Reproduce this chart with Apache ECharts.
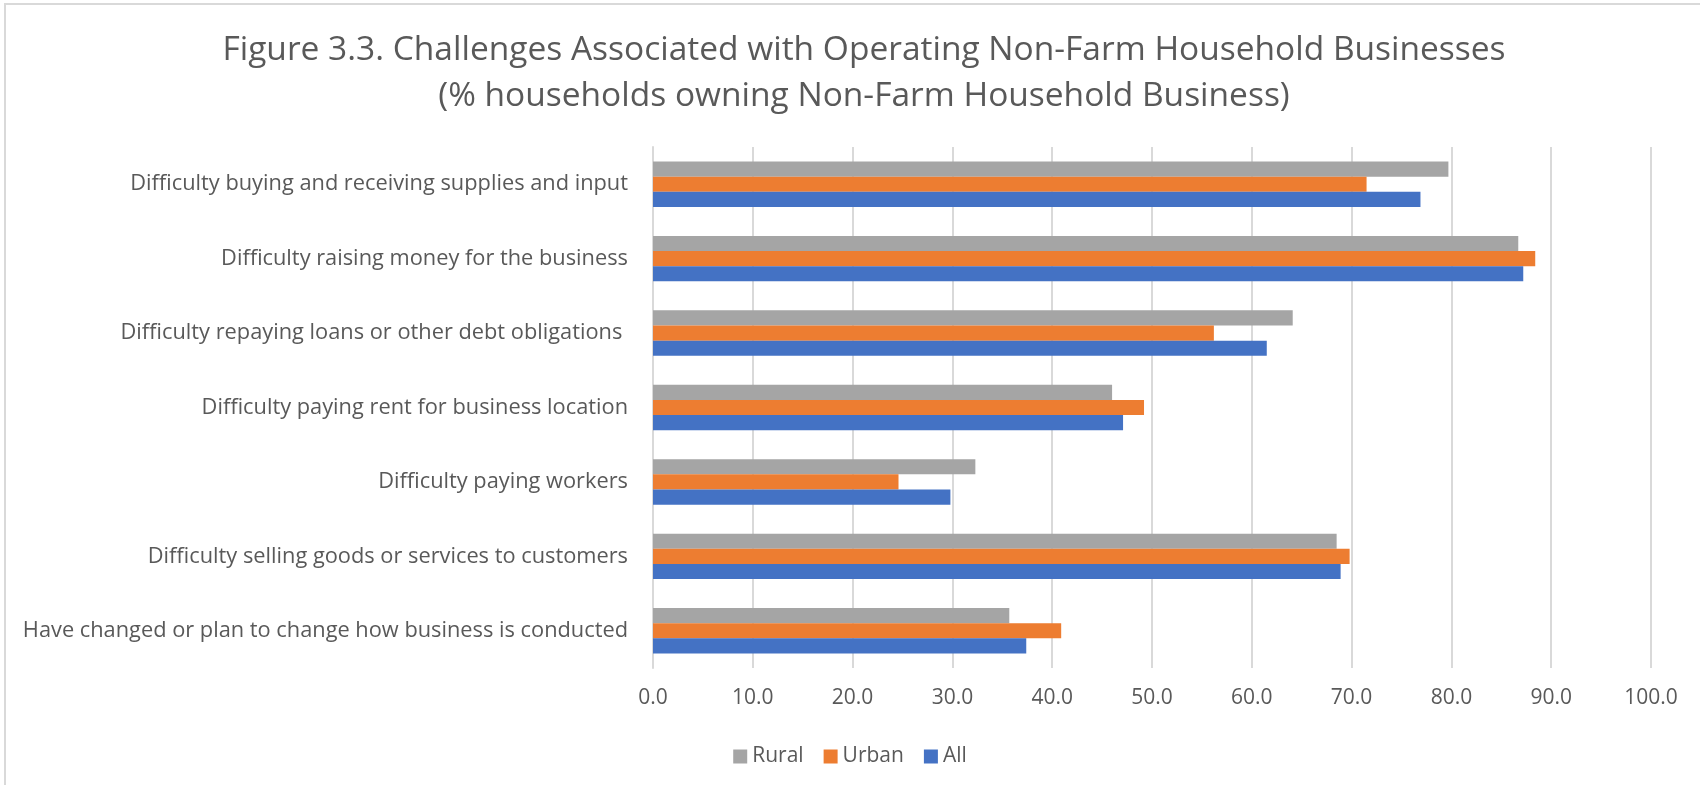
<!DOCTYPE html>
<html>
<head>
<meta charset="utf-8">
<title>Figure 3.3</title>
<script src="https://cdn.jsdelivr.net/npm/echarts@6/dist/echarts.min.js"></script>
<style>
	html, body {
		margin: 0;
		padding: 0;
		background: #fff;
	}
	#chart {
		width: 1700px;
		height: 785px;
	}
</style>
</head>
<body>
<div id="chart"></div>
<script>
let categories = [
	'Difficulty buying and receiving supplies and input',
	'Difficulty raising money for the business',
	'Difficulty repaying loans or other debt obligations ',
	'Difficulty paying rent for business location',
	'Difficulty paying workers',
	'Difficulty selling goods or services to customers',
	'Have changed or plan to change how business is conducted',
];
let rural = [79.7, 86.7, 64.1, 46.0, 32.3, 68.5, 35.7];
let urban = [71.5, 88.4, 56.2, 49.2, 24.6, 69.8, 40.9];
let all = [76.9, 87.2, 61.5, 47.1, 29.8, 68.9, 37.4];

let font = 'Open Sans';
let textColor = '#595959';

let chart = echarts.init(document.getElementById('chart'));

let barSeries = (name, data, color) => ({
	name,
	type: 'bar',
	data,
	barGap: '0%',
	barCategoryGap: '39%',
	itemStyle: {color},
});

chart.setOption({
	animation: false,
	textStyle: {fontFamily: font},
	graphic: [{
		type: 'rect',
		shape: {x: 5, y: 4, width: 1710, height: 800},
		style: {fill: 'none', stroke: '#d9d9d9', lineWidth: 2},
		silent: true,
	}],
	title: {
		text: 'Figure 3.3. Challenges Associated with Operating Non-Farm Household Businesses\n(% households owning Non-Farm Household Business)',
		left: 859,
		top: 22,
		textAlign: 'center',
		textStyle: {
			fontFamily: font,
			fontSize: 33.5,
			fontWeight: 'normal',
			color: textColor,
			lineHeight: 46,
		},
	},
	legend: {
		data: ['Rural', 'Urban', 'All'],
		left: 'center',
		top: 741,
		itemWidth: 14,
		itemHeight: 14,
		itemGap: 20,
		icon: 'rect',
		textStyle: {fontFamily: font, fontSize: 21, color: textColor},
	},
	grid: {
		left: 653,
		right: 49,
		top: 147,
		bottom: 117,
		containLabel: false,
	},
	xAxis: {
		type: 'value',
		min: 0,
		max: 100,
		interval: 10,
		axisLine: {show: false},
		axisTick: {show: false},
		splitLine: {lineStyle: {color: '#d9d9d9', width: 2}},
		axisLabel: {
			formatter: (v) => v.toFixed(1),
			fontFamily: font,
			fontSize: 21,
			color: textColor,
			margin: 20,
		},
	},
	yAxis: {
		type: 'category',
		data: categories,
		inverse: true,
		axisLine: {lineStyle: {color: '#d9d9d9', width: 2}},
		axisTick: {show: false},
		axisLabel: {
			fontFamily: font,
			fontSize: 21.8,
			color: textColor,
			margin: 25,
		},
	},
	series: [
		barSeries('Rural', rural, '#A5A5A5'),
		barSeries('Urban', urban, '#ED7D31'),
		barSeries('All', all, '#4472C4'),
	],
});
</script>
</body>
</html>
